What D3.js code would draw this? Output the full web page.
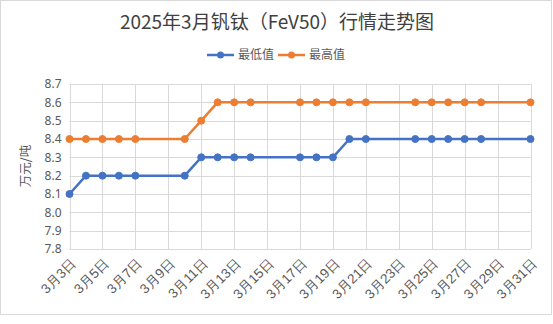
<!DOCTYPE html>
<html><head><meta charset="utf-8">
<script src="https://cdn.jsdelivr.net/npm/d3@7"></script>
<style>
body{margin:0;background:#fff;}
svg{display:block;font-family:"Noto Sans CJK SC","Noto Sans",sans-serif;}
</style></head>
<body><svg id="c" width="553" height="324"></svg>
<script>
const title = "2025年3月钒钛（FeV50）行情走势图";
const seriesNames = ["最低值","最高值"];
const days = [3,4,5,6,7,10,11,12,13,14,17,18,19,20,21,24,25,26,27,28,31];
const lowValues  = [8.1,8.2,8.2,8.2,8.2,8.2,8.3,8.3,8.3,8.3,8.3,8.3,8.3,8.4,8.4,8.4,8.4,8.4,8.4,8.4,8.4];
const highValues = [8.4,8.4,8.4,8.4,8.4,8.4,8.5,8.6,8.6,8.6,8.6,8.6,8.6,8.6,8.6,8.6,8.6,8.6,8.6,8.6,8.6];
const xTickDays = [3,5,7,9,11,13,15,17,19,21,23,25,27,29,31];
const yTicks = [7.8,7.9,8.0,8.1,8.2,8.3,8.4,8.5,8.6,8.7];
const yLabel = "万元/吨";
const colors = ["#4472C4","#ED7D31"];

const svg = d3.select("#c");
svg.append("rect").attr("x",0.5).attr("y",0.5).attr("width",551).attr("height",314)
  .attr("fill","#fff").attr("stroke","#d9d9d9");

const x = d3.scaleLinear().domain([3,31]).range([69.5,530.5]);
const y = d3.scaleLinear().domain([7.8,8.7]).range([249,84]);

// gridlines
const g = svg.append("g");
g.selectAll(".hg").data(yTicks).join("line")
  .attr("x1",x(3)).attr("x2",x(31))
  .attr("y1",d=>Math.round(y(d))+0.5).attr("y2",d=>Math.round(y(d))+0.5)
  .attr("stroke","#d9d9d9").attr("stroke-width",1);
g.selectAll(".vg").data(xTickDays).join("line")
  .attr("y1",y(8.7)).attr("y2",y(7.8))
  .attr("x1",d=>Math.round(x(d))+0.5).attr("x2",d=>Math.round(x(d))+0.5)
  .attr("stroke","#d9d9d9").attr("stroke-width",1);

// y axis labels
const yAxis = d3.axisLeft(y).tickValues(yTicks).tickFormat(d3.format(".1f")).tickSize(0).tickPadding(8);
const ya = svg.append("g").attr("transform",`translate(${x(3)},0)`).call(yAxis);
ya.select(".domain").remove();
ya.selectAll("text").attr("fill","#595959").style("font-size","12px").style("font-family","'Noto Sans','Noto Sans CJK SC',sans-serif");

// x axis labels
const xAxis = d3.axisBottom(x).tickValues(xTickDays).tickFormat(d=>`3月${d}日`).tickSize(0);
const xa = svg.append("g").attr("transform",`translate(0,${y(7.8)})`).call(xAxis);
xa.select(".domain").remove();
xa.selectAll("text").attr("fill","#595959").style("font-size","13.5px")
  .attr("text-anchor","end").attr("dy",0).attr("y",0)
  .attr("transform","translate(7,15) rotate(-45)");

// y title
svg.append("text").attr("transform","translate(30,166) rotate(-90)")
  .attr("text-anchor","middle").attr("fill","#595959").style("font-size","12.5px").text(yLabel);

// title
svg.append("text").attr("x",277).attr("y",29).attr("text-anchor","middle")
  .attr("fill","#404040").style("font-size","19px").text(title);

// lines
const series = [lowValues, highValues];
const line = d3.line().x((d,i)=>x(days[i])).y(d=>y(d));
series.forEach((vals,k)=>{
  svg.append("path").datum(vals).attr("d",line).attr("fill","none")
    .attr("stroke",colors[k]).attr("stroke-width",2.5).attr("stroke-linejoin","round");
  svg.append("g").selectAll("circle").data(vals).join("circle")
    .attr("cx",(d,i)=>x(days[i])).attr("cy",d=>y(d)).attr("r",3.5)
    .attr("fill",colors[k]).attr("stroke",colors[k]).attr("stroke-width",1);
});

// legend
const leg = svg.append("g");
const legX = [207, 278];
seriesNames.forEach((n,k)=>{
  const lg = leg.append("g").attr("transform",`translate(${legX[k]},55)`);
  lg.append("line").attr("x1",0).attr("x2",27).attr("stroke",colors[k]).attr("stroke-width",2.5);
  lg.append("circle").attr("cx",13.5).attr("r",3.5).attr("fill",colors[k]);
  lg.append("text").attr("x",31).attr("y",4).attr("fill","#595959").style("font-size","12px").text(n);
});
</script></body></html>
